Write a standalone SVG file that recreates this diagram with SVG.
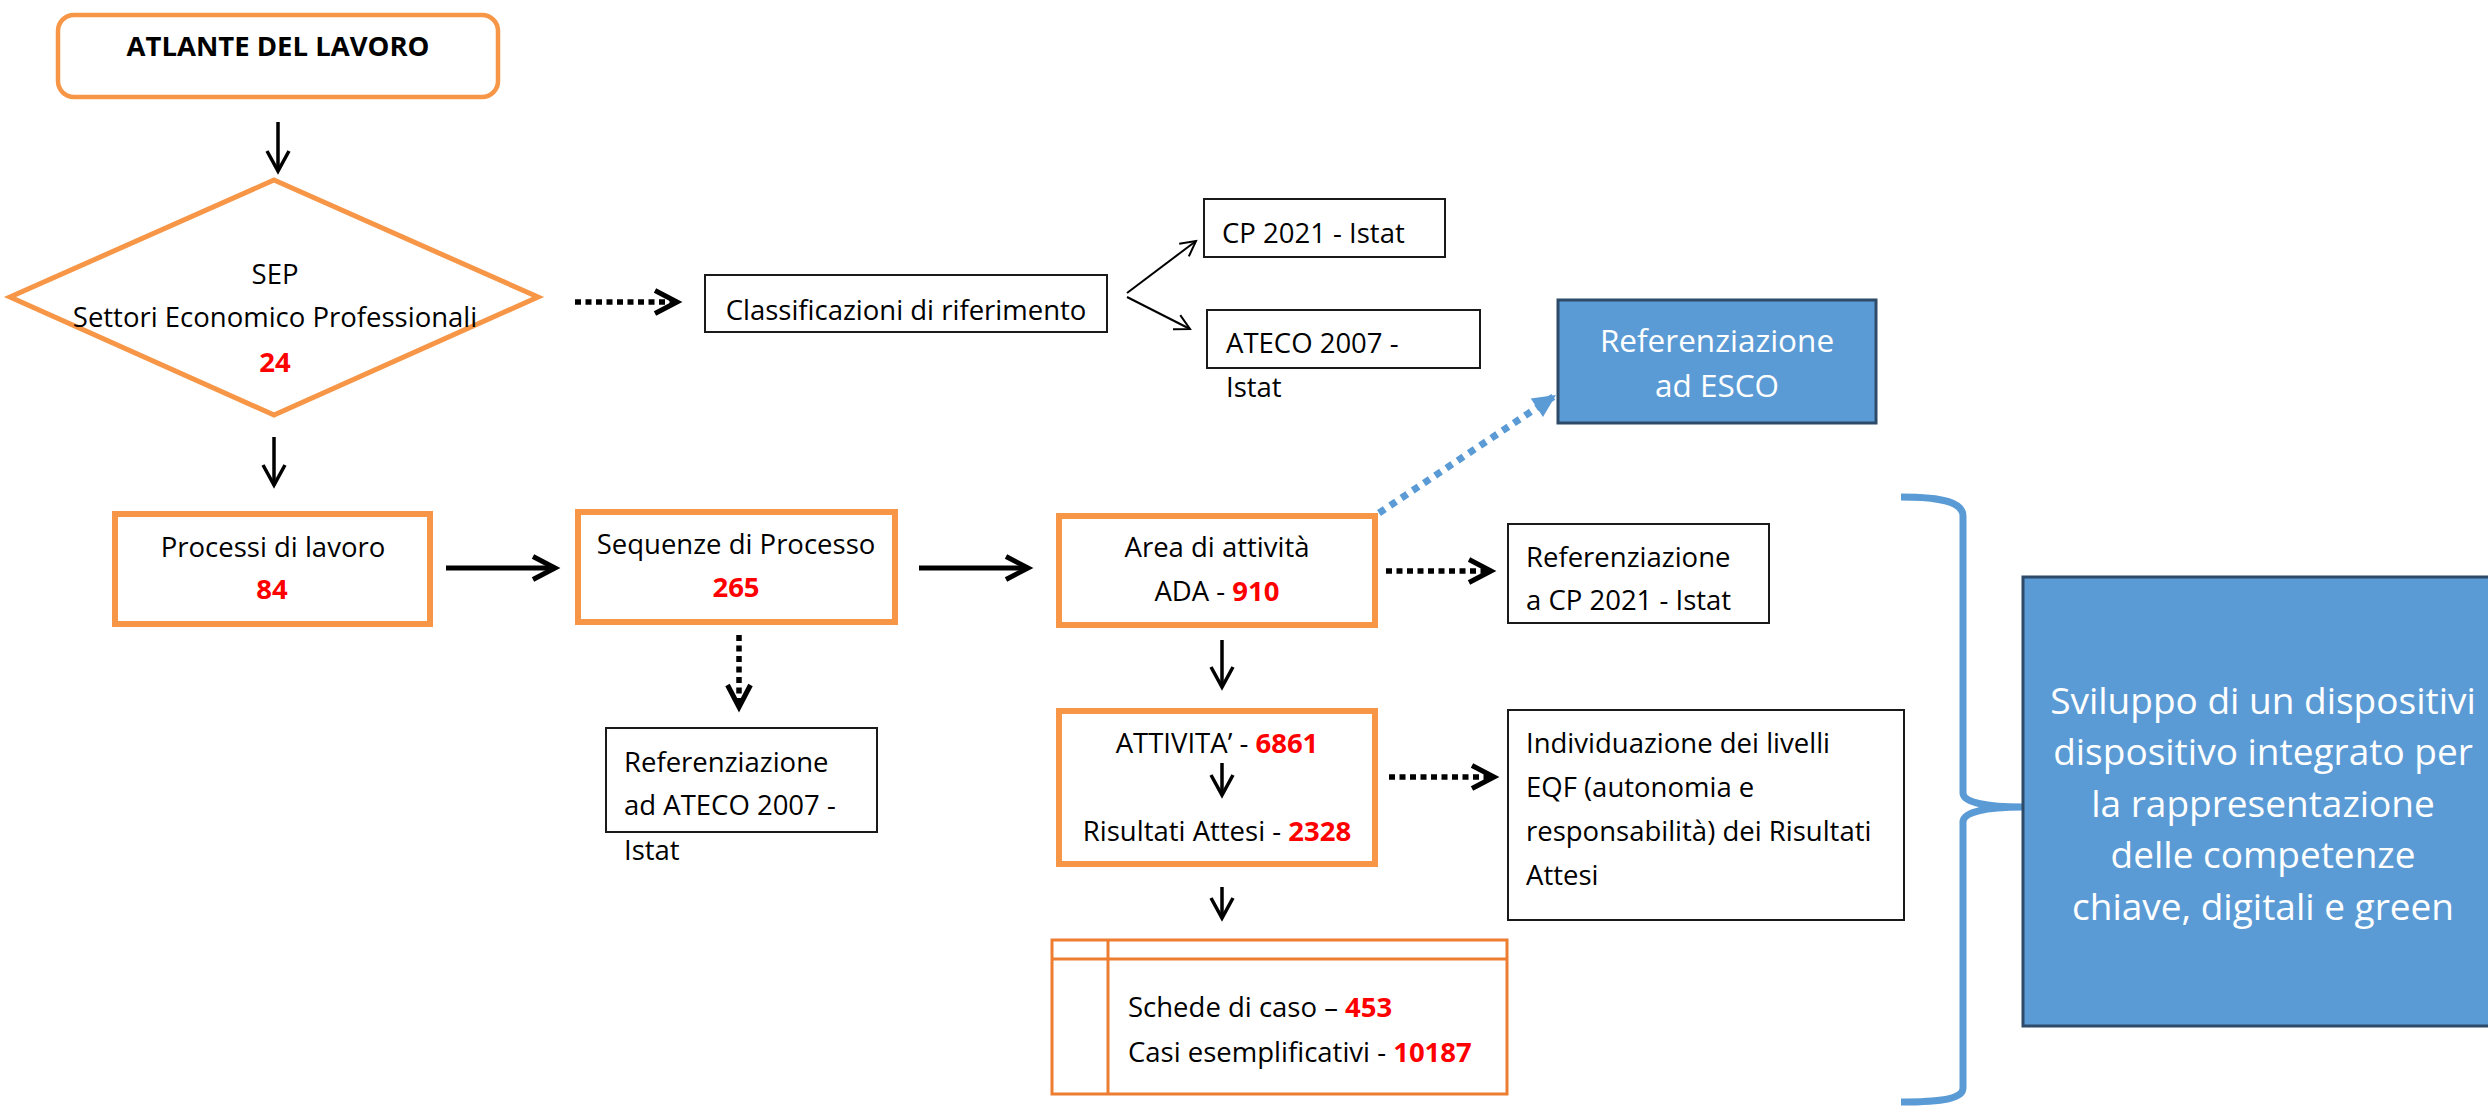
<svg xmlns="http://www.w3.org/2000/svg" width="2488" height="1108" viewBox="0 0 2488 1108">
<style>
text { font-family: "Open Sans", "Liberation Sans", sans-serif; font-size: 27.5px; fill: #000; }
.c { text-anchor: middle; }
.b { font-weight: bold; }
.num { font-weight: bold; fill: #FF0000; }
.w { fill: #FFFFFF; }
.thick { fill: #FFFFFF; stroke: #F79646; stroke-width: 6; }
.thin { fill: #FFFFFF; stroke: #1A1A1A; stroke-width: 2; }
.blue { fill: #5B9BD5; stroke: #2D4B69; stroke-width: 3; }
.arr { fill: none; stroke: #000; stroke-width: 5; marker-end: url(#chevBold); }
.arrD { fill: none; stroke: #000; stroke-width: 3.5; marker-end: url(#chev); }
.arrS { fill: none; stroke: #000; stroke-width: 2; marker-end: url(#chevSm); }
.dot { fill: none; stroke: #000; stroke-width: 5.5; stroke-dasharray: 6 4.5; marker-end: url(#chevBold); }
.bdot { fill: none; stroke: #5B9BD5; stroke-width: 7; stroke-dasharray: 7 6.5; marker-end: url(#tri); }
</style>
<defs>
<marker id="chevBold" viewBox="0 0 28 28" markerWidth="28" markerHeight="28" refX="24" refY="14" orient="auto" markerUnits="userSpaceOnUse" overflow="visible">
<path d="M2,2.5 L24,14 L2,25.5" fill="none" stroke="#000" stroke-width="5" stroke-dasharray="none"/>
</marker>
<marker id="chev" viewBox="0 0 26 26" markerWidth="26" markerHeight="26" refX="22" refY="13" orient="auto" markerUnits="userSpaceOnUse" overflow="visible">
<path d="M2,2 L22,13 L2,24" fill="none" stroke="#000" stroke-width="3.5"/>
</marker>
<marker id="chevSm" viewBox="0 0 20 20" markerWidth="20" markerHeight="20" refX="16" refY="10" orient="auto" markerUnits="userSpaceOnUse" overflow="visible">
<path d="M1,2 L16,10 L1,18" fill="none" stroke="#000" stroke-width="2"/>
</marker>
<marker id="tri" viewBox="0 0 24 22" markerWidth="24" markerHeight="22" refX="23" refY="11" orient="auto" markerUnits="userSpaceOnUse" overflow="visible">
<path d="M0,0 L23,11 L0,22 Z" fill="#5B9BD5"/>
</marker>
</defs>

<g id="atlante">
<rect x="58" y="15" width="440" height="82" rx="16" ry="16" fill="#FFFFFF" stroke="#F79646" stroke-width="4.5"/>
<text class="c b" x="278" y="56">ATLANTE DEL LAVORO</text>
</g>

<g id="sep">
<polygon points="274,180 538,297 274,415 10,297" fill="#FFFFFF" stroke="#F79646" stroke-width="5"/>
<text class="c" x="275" y="284">SEP</text>
<text class="c" x="275" y="327">Settori Economico Professionali</text>
<text class="c num" x="275" y="372">24</text>
</g>

<g id="classificazioni">
<rect class="thin" x="705" y="275" width="402" height="57"/>
<text class="c" x="906" y="320">Classificazioni di riferimento</text>
</g>

<g id="cp2021">
<rect class="thin" x="1204" y="199" width="241" height="58"/>
<text x="1222" y="243">CP 2021 - Istat</text>
</g>

<g id="ateco">
<rect class="thin" x="1207" y="310" width="273" height="58"/>
<text x="1226" y="353">ATECO 2007 -</text>
<text x="1226" y="397">Istat</text>
</g>

<g id="esco">
<rect class="blue" x="1558" y="300" width="318" height="123"/>
<text class="c w" x="1717" y="352" style="font-size:31.5px">Referenziazione</text>
<text class="c w" x="1717" y="397" style="font-size:31.5px">ad ESCO</text>
</g>

<g id="processi">
<rect class="thick" x="115" y="514" width="315" height="110"/>
<text class="c" x="273" y="557">Processi di lavoro</text>
<text class="c num" x="272" y="599">84</text>
</g>

<g id="sequenze">
<rect class="thick" x="578" y="512" width="317" height="110"/>
<text class="c" x="736" y="554">Sequenze di Processo</text>
<text class="c num" x="736" y="597">265</text>
</g>

<g id="ref-ateco">
<rect class="thin" x="606" y="728" width="271" height="104"/>
<text x="624" y="772">Referenziazione</text>
<text x="624" y="815">ad ATECO 2007 -</text>
<text x="624" y="860">Istat</text>
</g>

<g id="area">
<rect class="thick" x="1059" y="516" width="316" height="109"/>
<text class="c" x="1217" y="557">Area di attività</text>
<text class="c" x="1217" y="601">ADA - <tspan class="num">910</tspan></text>
</g>

<g id="ref-cp">
<rect class="thin" x="1508" y="524" width="261" height="99"/>
<text x="1526" y="567">Referenziazione</text>
<text x="1526" y="610">a CP 2021 - Istat</text>
</g>

<g id="attivita">
<rect class="thick" x="1059" y="711" width="316" height="153"/>
<text class="c" x="1217" y="753">ATTIVITA’ - <tspan class="num">6861</tspan></text>
<text class="c" x="1217" y="841">Risultati Attesi - <tspan class="num">2328</tspan></text>
</g>

<g id="individuazione">
<rect class="thin" x="1508" y="710" width="396" height="210"/>
<text x="1526" y="753">Individuazione dei livelli</text>
<text x="1526" y="797">EQF (autonomia e</text>
<text x="1526" y="841">responsabilità) dei Risultati</text>
<text x="1526" y="885">Attesi</text>
</g>

<g id="schede">
<rect x="1052" y="940" width="455" height="154" fill="#FFFFFF" stroke="#ED7D31" stroke-width="3"/>
<line x1="1052" y1="959" x2="1507" y2="959" stroke="#ED7D31" stroke-width="3"/>
<line x1="1108" y1="940" x2="1108" y2="1094" stroke="#ED7D31" stroke-width="3"/>
<text x="1128" y="1017">Schede di caso – <tspan class="num">453</tspan></text>
<text x="1128" y="1062">Casi esemplificativi - <tspan class="num">10187</tspan></text>
</g>

<g id="bracket">
<path d="M1901,497 C1945,497 1963,503 1963,516 L1963,793 C1963,802 1985,807 2023,807 C1985,807 1963,812 1963,822 L1963,1088 C1963,1098 1945,1102 1901,1102" fill="none" stroke="#5B9BD5" stroke-width="7"/>
</g>

<g id="sviluppo">
<rect class="blue" x="2023" y="577" width="490" height="449"/>
<text class="c w" x="2263" y="714" style="font-size:37px">Sviluppo di un dispositivi</text>
<text class="c w" x="2263" y="765" style="font-size:37px">dispositivo integrato per</text>
<text class="c w" x="2263" y="817" style="font-size:37px">la rappresentazione</text>
<text class="c w" x="2263" y="868" style="font-size:37px">delle competenze</text>
<text class="c w" x="2263" y="920" style="font-size:37px">chiave, digitali e green</text>
</g>

<g id="connectors">
<line class="arrD" x1="278" y1="122" x2="278" y2="171"/>
<line class="arrD" x1="274" y1="437" x2="274" y2="485"/>
<line class="arr" x1="446" y1="568" x2="555" y2="568"/>
<line class="arr" x1="919" y1="568" x2="1028" y2="568"/>
<line class="dot" x1="575" y1="302" x2="677" y2="302"/>
<line class="dot" x1="739" y1="635" x2="739" y2="707"/>
<line class="dot" x1="1386" y1="571" x2="1491" y2="571"/>
<line class="arrD" x1="1222" y1="640" x2="1222" y2="687"/>
<line class="arrD" x1="1222" y1="763" x2="1222" y2="795"/>
<line class="dot" x1="1389" y1="777" x2="1494" y2="777"/>
<line class="arrD" x1="1222" y1="887" x2="1222" y2="918"/>
<line class="arrS" x1="1127" y1="293" x2="1196" y2="241"/>
<line class="arrS" x1="1127" y1="297" x2="1190" y2="329"/>
<line class="bdot" x1="1379" y1="513" x2="1556" y2="395"/>
</g>
</svg>
